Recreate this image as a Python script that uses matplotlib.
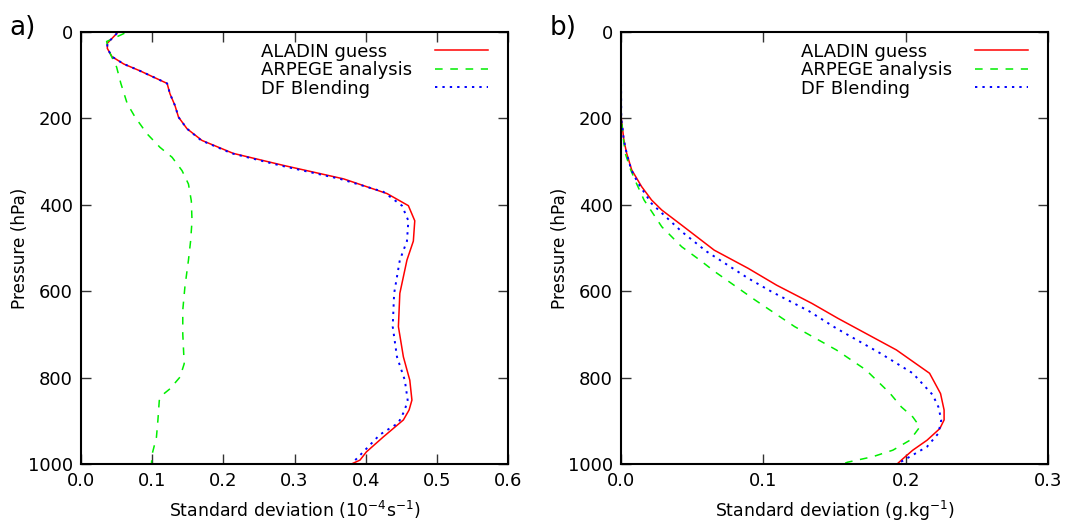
import matplotlib
matplotlib.use("Agg")
import matplotlib.pyplot as plt

# ---------------------------------------------------------------------------
# Data (pressure in hPa, std dev in plot units)
# ---------------------------------------------------------------------------

# panel a) 1e-4 s-1
a_aladin_p = [3, 26, 38, 57, 74, 90, 119, 143, 170, 197, 224, 251, 281, 309,
              340, 374, 402, 437, 484, 528, 605, 682, 752, 806, 852, 875, 898,
              937, 972, 991, 1000]
a_aladin_x = [0.0505, 0.037, 0.037, 0.0435, 0.060, 0.083, 0.121, 0.125, 0.132,
              0.137, 0.149, 0.170, 0.214, 0.285, 0.369, 0.430, 0.460, 0.469,
              0.467, 0.458, 0.448, 0.446, 0.453, 0.462, 0.465, 0.461, 0.453,
              0.425, 0.401, 0.392, 0.380]

a_arpege_p = [3, 22, 50, 81, 119, 166, 197, 236, 267, 290, 321, 352, 391, 437,
              484, 528, 590, 644, 698, 768, 799, 826, 838, 853, 900, 938, 977,
              1000]
a_arpege_x = [0.061, 0.036, 0.041, 0.050, 0.056, 0.065, 0.076, 0.093, 0.111,
              0.128, 0.142, 0.151, 0.155, 0.156, 0.154, 0.151, 0.146, 0.143,
              0.143, 0.145, 0.139, 0.125, 0.116, 0.110, 0.108, 0.106, 0.100,
              0.099]

a_blend_p = [3, 26, 38, 57, 74, 90, 119, 143, 170, 197, 224, 251, 281, 309,
             340, 370, 402, 437, 484, 528, 605, 682, 752, 806, 852, 875, 905,
             932, 968, 1000]
a_blend_x = [0.0505, 0.037, 0.037, 0.0435, 0.060, 0.083, 0.121, 0.125, 0.132,
             0.137, 0.149, 0.169, 0.212, 0.280, 0.364, 0.425, 0.451, 0.460,
             0.458, 0.448, 0.440, 0.438, 0.444, 0.455, 0.459, 0.455, 0.446,
             0.420, 0.399, 0.380]

# panel b) g/kg
b_aladin_p = [0, 100, 200, 219, 250, 281, 319, 358, 389, 412, 447, 505, 547,
              586, 628, 663, 736, 790, 837, 875, 898, 918, 945, 968, 988, 1000]
b_aladin_x = [0.0, 0.0, 0.0002, 0.0009, 0.002, 0.004, 0.0075, 0.0145, 0.0215,
              0.0286, 0.0426, 0.0655, 0.0893, 0.1093, 0.134, 0.1525, 0.1935,
              0.2168, 0.2245, 0.227, 0.227, 0.224, 0.215, 0.205, 0.198, 0.194]

b_arpege_p = [0, 100, 200, 250, 281, 319, 350, 389, 451, 497, 528, 555, 620,
              682, 736, 782, 836, 868, 891, 914, 945, 968, 983, 996, 1000]
b_arpege_x = [0.0, 0.0, 0.0002, 0.0018, 0.003, 0.0068, 0.0108, 0.0162, 0.0287,
              0.0426, 0.0554, 0.066, 0.094, 0.122, 0.1513, 0.172, 0.1889,
              0.197, 0.205, 0.210, 0.203, 0.191, 0.177, 0.159, 0.156]

b_blend_p = [0, 100, 200, 219, 250, 281, 319, 350, 397, 462, 508, 570, 601,
             646, 686, 743, 790, 840, 868, 898, 929, 960, 983, 1000]
b_blend_x = [0.0, 0.0, 0.0002, 0.0009, 0.002, 0.004, 0.0072, 0.012, 0.0215,
             0.0426, 0.0601, 0.0893, 0.1057, 0.132, 0.1513, 0.1818, 0.205,
             0.219, 0.223, 0.225, 0.223, 0.215, 0.203, 0.194]

labels = ["ALADIN guess", "ARPEGE analysis", "DF Blending"]

a_xticks = [0.0, 0.1, 0.2, 0.3, 0.4, 0.5, 0.6]
b_xticks = [0.0, 0.1, 0.2, 0.3]
p_ticks = [0, 200, 400, 600, 800, 1000]

# ---------------------------------------------------------------------------

plt.rcParams["font.family"] = ["DejaVu Sans"]
plt.rcParams["mathtext.default"] = "regular"

fig = plt.figure(figsize=(10.7, 5.22), dpi=100)
ax_a = fig.add_axes([81 / 1070, 58 / 522, 427 / 1070, 432 / 522])
ax_b = fig.add_axes([621 / 1070, 58 / 522, 427 / 1070, 432 / 522])
renderer = fig.canvas.get_renderer()


def left_align_legend(leg):
    # markerfirst=False right-aligns the rows; pad the gaps so the labels
    # line up on the left and the sample lines stay in one column
    texts = leg.get_texts()
    widths = [t.get_window_extent(renderer).width for t in texts]
    rows = leg._legend_handle_box.get_children()[0].get_children()
    for row, w in zip(rows, widths):
        row.sep += (max(widths) - w) * 72.0 / fig.dpi


def draw_panel(ax, series, xticks, xlabel, tag):
    styles = [
        dict(color="#ff0000", lw=1.1, ls="-"),
        dict(color="#00ee00", lw=1.1, ls=(0, (5, 5))),
        dict(color="#0000ff", lw=1.4, ls=(0, (1.2, 2.6))),
    ]
    for (x, p), st, lab in zip(series, styles, labels):
        ax.plot(x, p, label=lab, **st)

    ax.set_xlim(xticks[0], xticks[-1])
    ax.set_ylim(1000, 0)
    ax.set_xticks(xticks)
    ax.set_xticklabels([f"{t:.1f}" for t in xticks])
    ax.set_yticks(p_ticks)
    ax.tick_params(direction="in", length=7, width=1.0, top=True, right=True,
                   labelsize=13, pad=6, colors="#333333", labelcolor="black")
    for s in ax.spines.values():
        s.set_linewidth(1.5)
    ax.set_xlabel(xlabel, fontsize=12.4, labelpad=6)
    ax.set_ylabel("Pressure (hPa)", fontsize=12.2, labelpad=-1)
    ax.text(-0.168, 1.01, tag, transform=ax.transAxes, fontsize=19,
            va="center", ha="left")

    leg = ax.legend(loc="upper right", bbox_to_anchor=(0.952, 0.975),
                    frameon=False, markerfirst=False, fontsize=13,
                    handlelength=2.9, handletextpad=1.3, labelspacing=0.02,
                    borderpad=0, borderaxespad=0)
    left_align_legend(leg)


draw_panel(ax_a,
           [(a_aladin_x, a_aladin_p), (a_arpege_x, a_arpege_p),
            (a_blend_x, a_blend_p)],
           a_xticks, "Standard deviation (10$^{-4}$s$^{-1}$)", "a)")
draw_panel(ax_b,
           [(b_aladin_x, b_aladin_p), (b_arpege_x, b_arpege_p),
            (b_blend_x, b_blend_p)],
           b_xticks, "Standard deviation (g.kg$^{-1}$)", "b)")

fig.savefig("out.png", dpi=100)
